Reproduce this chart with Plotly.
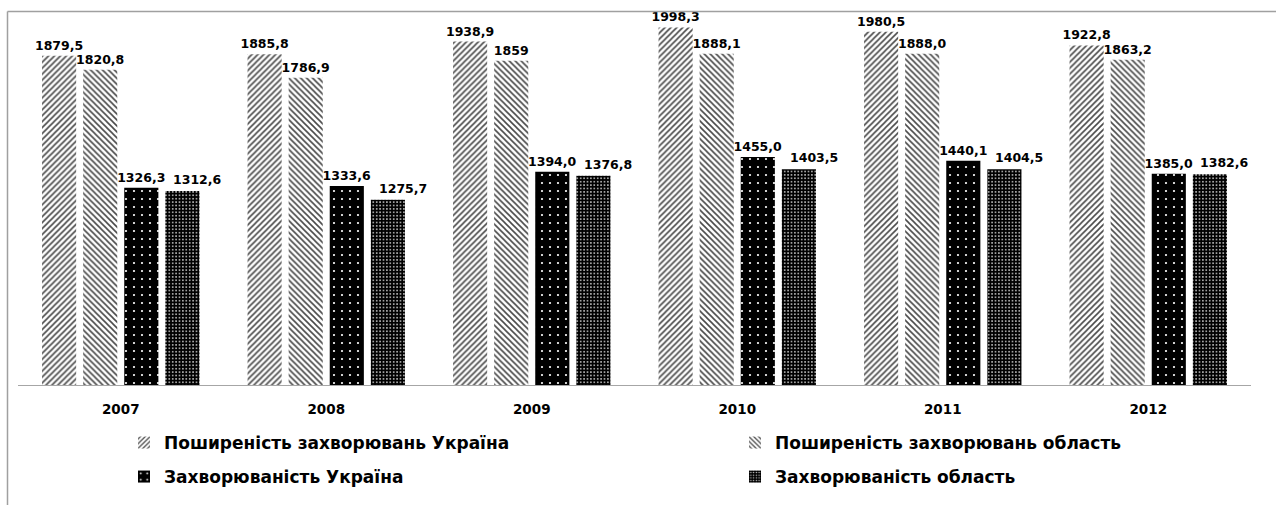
import plotly.graph_objects as go

# Categories and series values
years = ["2007", "2008", "2009", "2010", "2011", "2012"]
prev_ukraine = [1879.5, 1885.8, 1938.9, 1998.3, 1980.5, 1922.8]
prev_region = [1820.8, 1786.9, 1859, 1888.1, 1888.0, 1863.2]
inc_ukraine = [1326.3, 1333.6, 1394.0, 1455.0, 1440.1, 1385.0]
inc_region = [1312.6, 1275.7, 1376.8, 1403.5, 1404.5, 1382.6]

# Decimal places shown in the value labels of each series
prev_ukraine_dec = [1, 1, 1, 1, 1, 1]
prev_region_dec = [1, 1, 0, 1, 1, 1]
inc_ukraine_dec = [1, 1, 1, 1, 1, 1]
inc_region_dec = [1, 1, 1, 1, 1, 1]

names = [
    "Поширеність захворювань Україна",
    "Поширеність захворювань область",
    "Захворюваність Україна",
    "Захворюваність область",
]


def fmt(values, decimals):
    return [f"{v:.{d}f}".replace(".", ",") for v, d in zip(values, decimals)]


W, H = 1276, 505
ML, MR, MT, MB = 18, 25, 27, 120
PW, PH = W - ML - MR, H - MT - MB


def px_x(px):
    return (px - ML) / PW


def px_y(py):
    return (H - MB - py) / PH


FONT = "DejaVu Sans"
label_font = dict(family=FONT, size=12.5, color="black", weight="bold")

patterns = [
    dict(shape="/", fgcolor="#4a4a4a", bgcolor="white", size=4.2, solidity=0.38, fillmode="replace"),
    dict(shape="\\", fgcolor="#4a4a4a", bgcolor="white", size=4.2, solidity=0.38, fillmode="replace"),
    dict(shape=".", fgcolor="white", bgcolor="black", size=8, solidity=0.06, fillmode="replace"),
    dict(shape=".", fgcolor="#c8c8c8", bgcolor="black", size=3.4, solidity=0.22, fillmode="replace"),
]

series = [prev_ukraine, prev_region, inc_ukraine, inc_region]
texts = [
    fmt(prev_ukraine, prev_ukraine_dec),
    fmt(prev_region, prev_region_dec),
    fmt(inc_ukraine, inc_ukraine_dec),
    None,  # labels of the last series are placed as annotations
]
legend_ids = ["legend", "legend2", "legend3", "legend4"]

fig = go.Figure()
for vals, txt, name, pat, lg in zip(series, texts, names, patterns, legend_ids):
    fig.add_trace(go.Bar(
        x=years, y=vals, name=name,
        marker=dict(color=pat["bgcolor"], line=dict(width=0), pattern=pat),
        text=txt, textposition="outside" if txt else "none",
        textfont=label_font, constraintext="none", cliponaxis=False,
        legend=lg, hoverinfo="skip",
    ))

# Labels of the last series sit slightly to the right of their bars
BARGAP, GROUPGAP = 0.2, 0.17
slot_px = PW / len(years) * (1 - BARGAP) / 4
for i, (v, t) in enumerate(zip(inc_region, fmt(inc_region, inc_region_dec))):
    fig.add_annotation(
        x=i, y=v, text=t, showarrow=False, font=label_font,
        xanchor="center", yanchor="bottom",
        xshift=1.5 * slot_px + 15, yshift=2,
    )

frame = dict(color="#a0a0a0", width=1.5)
fig.add_shape(type="line", xref="paper", yref="paper",
              x0=px_x(7.5), x1=px_x(W + 5), y0=px_y(11.5), y1=px_y(11.5), line=frame)
fig.add_shape(type="line", xref="paper", yref="paper",
              x0=px_x(7.5), x1=px_x(7.5), y0=px_y(11.5), y1=px_y(H + 5), line=frame)

legend_font = dict(family=FONT, size=17, color="black", weight="bold")


def legend_at(px, py):
    return dict(
        orientation="h", xanchor="left", yanchor="middle",
        x=px_x(px), y=px_y(py),
        font=legend_font, bgcolor="rgba(0,0,0,0)", borderwidth=0,
    )


fig.update_layout(
    width=W, height=H,
    margin=dict(l=ML, r=MR, t=MT, b=MB, pad=0, autoexpand=False),
    paper_bgcolor="white", plot_bgcolor="white",
    barmode="group", bargap=BARGAP, bargroupgap=GROUPGAP,
    showlegend=True,
    legend=legend_at(124, 443),
    legend2=legend_at(735, 443),
    legend3=legend_at(124, 477),
    legend4=legend_at(735, 477),
    xaxis=dict(
        type="category", range=[-0.5, len(years) - 0.5],
        showline=True, linecolor="#a6a6a6", linewidth=1,
        showgrid=False, zeroline=False, ticks="", automargin=False,
        tickfont=dict(family=FONT, size=13.5, color="black", weight="bold"),
        ticklabelstandoff=12, fixedrange=True,
    ),
    yaxis=dict(range=[500, 2000], visible=False, showgrid=False,
               zeroline=False, fixedrange=True, automargin=False),
)

fig.write_html("out.html")
